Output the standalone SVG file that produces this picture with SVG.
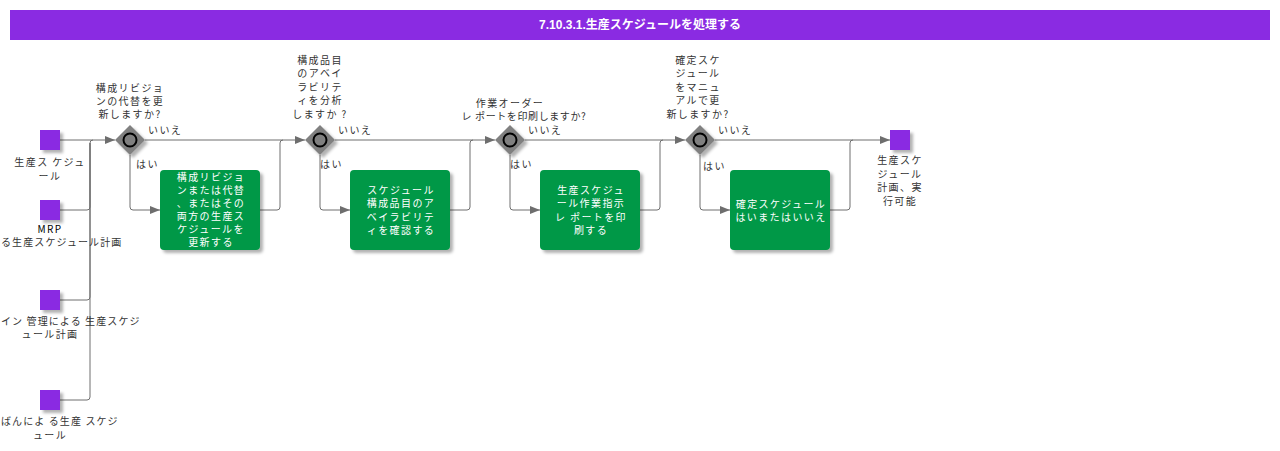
<svg xmlns="http://www.w3.org/2000/svg" width="1280" height="451" viewBox="0 0 1280 451">
<style>
text{font-family:"Noto Sans CJK JP","Liberation Sans",sans-serif;font-size:10px;letter-spacing:1.4px;fill:#333}
.c{text-anchor:middle}
.w{fill:#fff}
.title{font-family:"Liberation Sans","Noto Sans CJK JP",sans-serif;font-weight:bold;font-size:12px;fill:#fff;text-anchor:middle;letter-spacing:0}
.ev{fill:#8a2be2}
.gw{fill:#808080}
.gc{fill:#808080;stroke:#000;stroke-width:2}
.task{fill:#009846}
.ln{fill:none;stroke:#6e6e6e;stroke-width:1}
.arr{fill:none;stroke:#6e6e6e;stroke-width:1;marker-end:url(#ah)}
</style>
<defs>
<marker id="ah" markerWidth="10" markerHeight="8" refX="10" refY="4" orient="auto" markerUnits="userSpaceOnUse">
<path d="M0,0 L10,4 L0,8 Z" fill="#6e6e6e"/>
</marker>
<filter id="sh" x="-30%" y="-30%" width="170%" height="170%">
<feDropShadow dx="3" dy="3" stdDeviation="1.5" flood-color="#000" flood-opacity="0.3"/>
</filter>
</defs>
<g id="title">
<rect x="10" y="10" width="1260" height="30" fill="#8a2be2"/>
<text class="title" x="640" y="29">7.10.3.1.生産スケジュールを処理する</text>
</g>
<g id="connectors">
<path class="arr" d="M60,140 H115"/>
<path class="ln" d="M60,210 H87 Q90,210 90,207 V143 Q90,140 93,140"/>
<path class="ln" d="M60,300 H87 Q90,300 90,297 V143"/>
<path class="ln" d="M60,400 H87 Q90,400 90,397 V143"/>
<path class="arr" d="M145,140 H305"/>
<path class="arr" d="M130,155 V207 Q130,210 133,210 H160"/>
<path class="ln" d="M260,210 H277 Q280,210 280,207 V143 Q280,140 283,140"/>
<path class="arr" d="M335,140 H495"/>
<path class="arr" d="M320,155 V207 Q320,210 323,210 H350"/>
<path class="ln" d="M450,210 H467 Q470,210 470,207 V143 Q470,140 473,140"/>
<path class="arr" d="M525,140 H685"/>
<path class="arr" d="M510,155 V207 Q510,210 513,210 H540"/>
<path class="ln" d="M640,210 H657 Q660,210 660,207 V143 Q660,140 663,140"/>
<path class="arr" d="M715,140 H890"/>
<path class="arr" d="M700,155 V207 Q700,210 703,210 H730"/>
<path class="ln" d="M830,210 H847 Q850,210 850,207 V143 Q850,140 853,140"/>
<text x="148" y="134">いいえ</text>
<text x="136" y="168">はい</text>
<text x="338" y="134">いいえ</text>
<text x="320" y="168">はい</text>
<text x="528" y="134">いいえ</text>
<text x="510" y="168">はい</text>
<text x="718" y="134">いいえ</text>
<text x="703" y="170">はい</text>
</g>
<g id="start1">
<rect class="ev" x="40" y="130" width="20" height="20" filter="url(#sh)"/>
<text class="c" x="50" y="166">生産ス ケジュ</text>
<text class="c" x="50" y="180">ール</text>
</g>
<g id="start2">
<rect class="ev" x="40" y="200" width="20" height="20" filter="url(#sh)"/>
<text class="c" x="50" y="233" style="fill:#000">MRP</text>
<text x="1" y="246" style="letter-spacing:1.1px">る生産スケジュール計画</text>
</g>
<g id="start3">
<rect class="ev" x="40" y="290" width="20" height="20" filter="url(#sh)"/>
<text x="1" y="325" style="letter-spacing:1.1px">イン 管理による 生産スケジ</text>
<text class="c" x="50" y="338">ュール計画</text>
</g>
<g id="start4">
<rect class="ev" x="40" y="390" width="20" height="20" filter="url(#sh)"/>
<text x="1" y="425" style="letter-spacing:1.1px">ばんによ る生産 スケジ</text>
<text class="c" x="50" y="439">ュール</text>
</g>
<g id="gw1">
<polygon class="gw" points="130,125 145,140 130,155 115,140" filter="url(#sh)"/>
<circle class="gc" cx="130" cy="140" r="6.5"/>
<text class="c" x="130" y="92">構成リビジョ</text>
<text class="c" x="130" y="105">ンの代替を更</text>
<text class="c" x="130" y="118">新しますか?</text>
</g>
<g id="task1">
<rect class="task" x="160" y="170" width="100" height="80" rx="4" filter="url(#sh)"/>
<text class="c w" x="211" y="181">構成リビジョ</text>
<text class="c w" x="211" y="194">ンまたは代替</text>
<text class="c w" x="211" y="207">、またはその</text>
<text class="c w" x="211" y="220">両方の生産ス</text>
<text class="c w" x="211" y="233">ケジュールを</text>
<text class="c w" x="211" y="246">更新する</text>
</g>
<g id="gw2">
<polygon class="gw" points="320,125 335,140 320,155 305,140" filter="url(#sh)"/>
<circle class="gc" cx="320" cy="140" r="6.5"/>
<text class="c" x="320" y="64">構成品目</text>
<text class="c" x="320" y="77">のアベイ</text>
<text class="c" x="320" y="91">ラビリテ</text>
<text class="c" x="320" y="104">ィを分析</text>
<text class="c" x="320" y="118">しますか ?</text>
</g>
<g id="task2">
<rect class="task" x="350" y="170" width="100" height="80" rx="4" filter="url(#sh)"/>
<text class="c w" x="401" y="194">スケジュール</text>
<text class="c w" x="401" y="207">構成品目のア</text>
<text class="c w" x="401" y="221">ベイラビリテ</text>
<text class="c w" x="401" y="234">ィを確認する</text>
</g>
<g id="gw3">
<polygon class="gw" points="510,125 525,140 510,155 495,140" filter="url(#sh)"/>
<circle class="gc" cx="510" cy="140" r="6.5"/>
<text class="c" x="510" y="107">作業オーダー</text>
<text class="c" x="524" y="120" style="letter-spacing:0.6px">レ ポートを印刷しますか?</text>
</g>
<g id="task3">
<rect class="task" x="540" y="170" width="100" height="80" rx="4" filter="url(#sh)"/>
<text class="c w" x="591" y="194">生産スケジュ</text>
<text class="c w" x="591" y="207">ール作業指示</text>
<text class="c w" x="591" y="221">レ ポートを印</text>
<text class="c w" x="591" y="234">刷する</text>
</g>
<g id="gw4">
<polygon class="gw" points="700,125 715,140 700,155 685,140" filter="url(#sh)"/>
<circle class="gc" cx="700" cy="140" r="6.5"/>
<text class="c" x="698" y="64">確定スケ</text>
<text class="c" x="698" y="77">ジュール</text>
<text class="c" x="698" y="91">をマニュ</text>
<text class="c" x="698" y="104">アルで更</text>
<text class="c" x="698" y="118">新しますか?</text>
</g>
<g id="task4">
<rect class="task" x="730" y="170" width="100" height="80" rx="4" filter="url(#sh)"/>
<text class="c w" x="781" y="208">確定スケジュール</text>
<text class="c w" x="781" y="221">はいまたはいいえ</text>
</g>
<g id="end">
<rect class="ev" x="890" y="130" width="20" height="20" filter="url(#sh)"/>
<text class="c" x="900" y="164">生産スケ</text>
<text class="c" x="900" y="178">ジュール</text>
<text class="c" x="900" y="191">計画、実</text>
<text class="c" x="900" y="205">行可能</text>
</g>
</svg>
